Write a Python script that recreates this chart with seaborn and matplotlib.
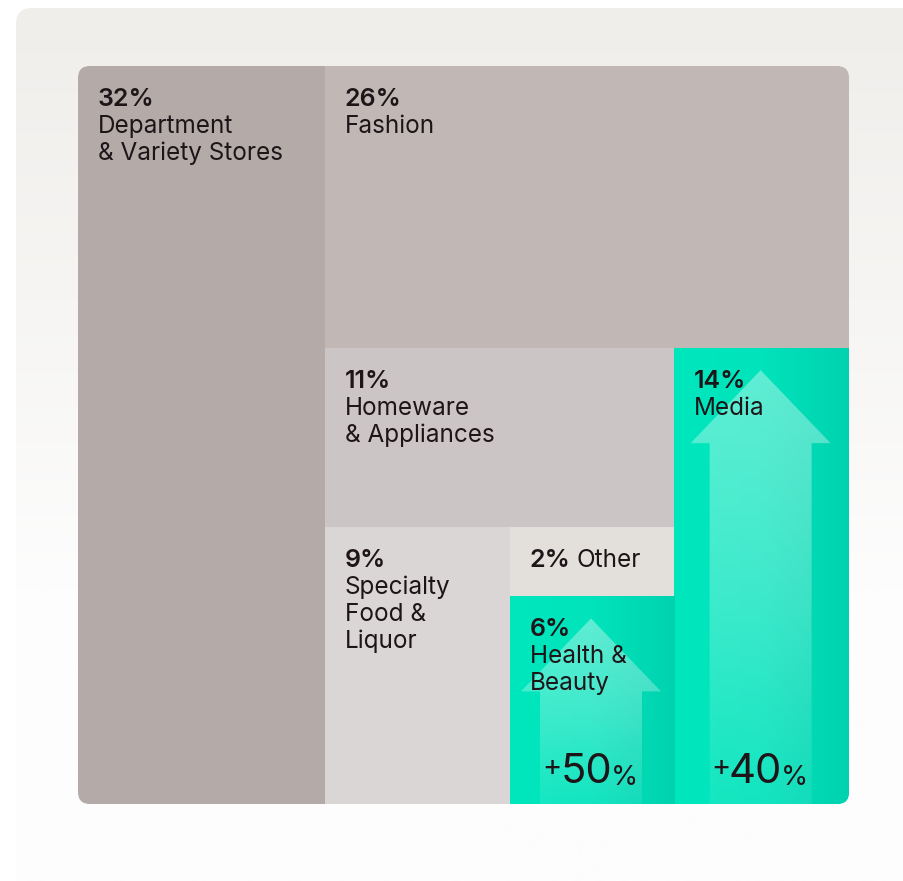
import numpy as np
import matplotlib.pyplot as plt
import seaborn as sns
from matplotlib.patches import FancyBboxPatch, Polygon
from matplotlib.colors import to_rgb

# data
categories = ["Department\n& Variety Stores", "Fashion", "Media", "Homeware\n& Appliances",
              "Specialty\nFood &\nLiquor", "Other", "Health &\nBeauty"]
shares = [32, 26, 14, 11, 9, 2, 6]
growth_categories = ["Media", "Health &\nBeauty"]
growth_values = [40, 50]

# slice-and-dice order used by the treemap
split_dirs = ["left", "top", "right", "top", "left", "top", "top"]
tile_colors = ["#b4aba9", "#c1b8b6", "#00e3bb", "#cbc6c5", "#dad6d5", "#e3e0dc", "#00e3bb"]
TEXT = "#1e1519"

sns.set_theme(style="white")
plt.rcParams["font.family"] = ["Inter", "DejaVu Sans"]

fig = plt.figure(figsize=(9.04, 8.81), dpi=100)
fig.patch.set_facecolor("white")
ax = fig.add_axes([0, 0, 1, 1])
ax.set_xlim(0, 904)
ax.set_ylim(881, 0)
ax.axis("off")


def slice_layout(values, dirs, box):
    x, y, w, h = box
    remaining = float(sum(values))
    rects = []
    for v, d in zip(values, dirs):
        f = v / remaining
        if d == "left":
            rects.append((x, y, w * f, h))
            x += w * f
            w -= w * f
        elif d == "right":
            rects.append((x + w * (1 - f), y, w * f, h))
            w -= w * f
        else:
            rects.append((x, y, w, h * f))
            y += h * f
            h -= h * f
        remaining -= v
    return rects


def gradient(colors, n=256, axis=0):
    stops = np.linspace(0, 1, len(colors))
    t = np.linspace(0, 1, n)
    arr = np.array([[np.interp(tt, stops, [c[k] for c in colors]) for k in range(4)] for tt in t])
    return arr[:, None, :] if axis == 0 else arr[None, :, :]


# background card
card = FancyBboxPatch((16, 8), 960, 960, boxstyle="round,pad=0,rounding_size=16",
                      facecolor="none", edgecolor="none")
ax.add_patch(card)
bg = gradient([(*to_rgb("#efeeeb"), 1), (*to_rgb("#f6f5f3"), 1), (*to_rgb("#fdfdfd"), 1),
               (*to_rgb("#fdfdfd"), 1)], axis=0)
im = ax.imshow(bg, extent=(16, 976, 881, 8), aspect="auto", interpolation="bilinear", zorder=0)
im.set_clip_path(card)

# treemap
box = (78, 66, 771, 738)
clip = FancyBboxPatch(box[:2], box[2], box[3], boxstyle="round,pad=0,rounding_size=12",
                      facecolor="none", edgecolor="none")
ax.add_patch(clip)
rects = slice_layout(shares, split_dirs, box)

for cat, val, (x, y, w, h), col in zip(categories, shares, rects, tile_colors):
    bars = ax.bar(x, h, width=w, bottom=y, align="edge", color=col, linewidth=0, zorder=1)
    for b in bars:
        b.set_clip_path(clip)

    if cat in growth_categories:
        g = growth_values[growth_categories.index(cat)]
        shade = gradient([(*to_rgb("#00e7bd"), 1), (*to_rgb("#00e3bb"), 1), (*to_rgb("#00d2b0"), 1)],
                         axis=1)
        im = ax.imshow(shade, extent=(x, x + w, y + h, y), aspect="auto",
                       interpolation="bilinear", zorder=2)
        im.set_clip_path(clip)

        cx = x + w / 2 - 1
        top = y + 22
        neck = y + 95
        arrow = Polygon([(cx, top), (cx + 70, neck), (cx + 51, neck), (cx + 51, y + h),
                         (cx - 51, y + h), (cx - 51, neck), (cx - 70, neck)],
                        closed=True, transform=ax.transData)
        glow = gradient([(1, 1, 1, 0.38), (1, 1, 1, 0.25), (1, 1, 1, 0.08)], axis=0)
        im = ax.imshow(glow, extent=(cx - 70, cx + 70, y + h, top), aspect="auto",
                       interpolation="bilinear", zorder=3)
        im.set_clip_path(arrow)

        num = ax.text(cx - 5, y + h - 21, f"{g}", fontsize=30, color=TEXT,
                      ha="center", va="baseline", zorder=5)
        ax.annotate("+", xy=(0, 0.98), xycoords=num, xytext=(1, 0), textcoords="offset points",
                    fontsize=21, color=TEXT, ha="right", va="top", zorder=5)
        ax.annotate("%", xy=(1, 0), xycoords=num, xytext=(-1, 0), textcoords="offset points",
                    fontsize=20, color=TEXT, ha="left", va="bottom", zorder=5)

    pct = ax.text(x + 20, y + 40, f"{val}%", fontsize=18, fontweight="semibold",
                  color=TEXT, ha="left", va="baseline", zorder=5)
    if h < 100:
        ax.annotate(cat, xy=(1, 0), xycoords=pct, xytext=(4, 0), textcoords="offset points",
                    fontsize=17.5, color=TEXT, ha="left", va="bottom", zorder=5)
    else:
        for i, line in enumerate(cat.split("\n")):
            ax.text(x + 20, y + 67 + 27 * i, line, fontsize=17.5, color=TEXT,
                    ha="left", va="baseline", zorder=5)

fig.savefig("out.png", dpi=100)
